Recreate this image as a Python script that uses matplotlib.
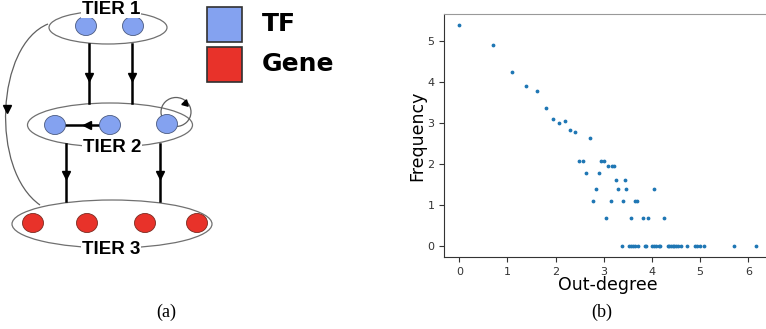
import matplotlib.pyplot as plt
import numpy as np
from matplotlib.patches import Ellipse, Rectangle, Arc, PathPatch
from matplotlib.path import Path

# scatter data (log out-degree vs log frequency)
out_degree = [0.00, 0.69, 1.10, 1.39, 1.61, 1.79, 1.95, 2.08, 2.20, 2.30,
              2.40, 2.71, 2.48, 2.56, 2.64, 2.83, 2.77, 2.89, 2.94, 3.00,
              3.04, 3.09, 3.14, 3.18, 3.22, 3.26, 3.30, 3.37, 3.40, 3.43,
              3.47, 3.53, 3.56, 3.60, 3.64, 3.71, 3.56, 3.64, 3.69, 3.81,
              3.85, 3.87, 3.91, 4.01, 4.04, 4.09, 4.14, 4.17, 4.04, 4.26,
              4.33, 4.36, 4.39, 4.43, 4.46, 4.50, 4.53, 4.60, 4.72, 4.89,
              4.94, 5.00, 5.09, 5.71, 6.16]
frequency = [5.38, 4.90, 4.23, 3.91, 3.78, 3.37, 3.09, 3.00, 3.04, 2.83,
             2.77, 2.64, 2.08, 2.08, 1.79, 1.39, 1.10, 1.79, 2.08, 2.08,
             0.69, 1.95, 1.10, 1.95, 1.95, 1.61, 1.39, 0.00, 1.10, 1.61,
             1.39, 0.00, 0.00, 0.00, 0.00, 0.00, 0.69, 1.10, 1.10, 0.69,
             0.00, 0.00, 0.69, 0.00, 0.00, 0.00, 0.00, 0.00, 1.39, 0.69,
             0.00, 0.00, 0.00, 0.00, 0.00, 0.00, 0.00, 0.00, 0.00, 0.00,
             0.00, 0.00, 0.00, 0.00, 0.00]
x_ticks = [0, 1, 2, 3, 4, 5, 6]
y_ticks = [0, 1, 2, 3, 4, 5]

# diagram: tiers and nodes
tier_labels = ["TIER 1", "TIER 2", "TIER 3"]
legend_labels = ["TF", "Gene"]

blue = "#84a2f0"
red = "#e8322a"

W, H = 766, 329
fig = plt.figure(figsize=(W / 100, H / 100), dpi=100)

# ---------- (a) diagram, drawn in pixel coordinates ----------
d = fig.add_axes([0, 0, 1, 1])
d.set_xlim(0, W)
d.set_ylim(H, 0)
d.axis("off")

tiers = [((108, 27.5), 118, 33), ((110, 125), 165, 44), ((112, 224), 200, 48)]
for (c, w, h) in tiers:
    d.add_patch(Ellipse(c, w, h, fc="none", ec="#707070", lw=0.9, zorder=1))

tier_text_pos = [(111, 9), (112, 147), (111, 249)]
for (x, y), lab in zip(tier_text_pos, tier_labels):
    d.text(x, y, lab, ha="center", va="center", fontsize=13.5,
           family="Liberation Sans", weight="bold", zorder=5,
           bbox=dict(fc="white", ec="none", pad=0.5))

# long curved arrow tier 1 -> tier 3
curve = Path([(48, 24), (-4, 45), (-10, 170), (40, 205)],
             [Path.MOVETO, Path.CURVE4, Path.CURVE4, Path.CURVE4])
d.add_patch(PathPatch(curve, fc="none", ec="#606060", lw=0.9, zorder=2))
d.plot(7, 109, marker="v", ms=5.5, color="black", zorder=3)

# vertical arrows
for x in [89, 132]:
    d.plot([x, x], [44, 103], color="black", lw=1.8, zorder=2)
    d.plot(x, 77, marker="v", ms=6, color="black", zorder=3)
for x in [66, 160]:
    d.plot([x, x], [144, 201], color="black", lw=1.8, zorder=2)
    d.plot(x, 175, marker="v", ms=6, color="black", zorder=3)

# horizontal arrow inside tier 2
d.plot([110, 55], [125, 125], color="black", lw=1.8, zorder=2)
d.plot(87, 125, marker="<", ms=6, color="black", zorder=3)

# self loop
d.add_patch(Arc((176, 112), 30, 29, theta1=0, theta2=360, ec="#606060",
                lw=0.9, zorder=2))
d.plot(185, 103, marker=(3, 0, -135), ms=5.5, color="black", zorder=3)

nodes_blue = [(86, 26), (133, 26), (55, 125), (110, 125), (167, 124)]
nodes_red = [(33, 223), (87, 223), (145, 223), (197, 223)]
for (x, y) in nodes_blue:
    d.add_patch(Ellipse((x, y), 21, 19, fc=blue, ec="#4a5a80", lw=0.6, zorder=4))
for (x, y) in nodes_red:
    d.add_patch(Ellipse((x, y), 21, 19, fc=red, ec="#7a2a20", lw=0.6, zorder=4))

# legend squares
for (y, col, lab) in [(7, blue, legend_labels[0]), (47, red, legend_labels[1])]:
    d.add_patch(Rectangle((207, y), 35, 35, fc=col, ec="#303030", lw=1.2, zorder=4))
    d.text(262, y + 17, lab, ha="left", va="center", fontsize=18,
           family="DejaVu Sans", weight="bold")

fig.text(166 / W, 1 - 312 / H, "(a)", ha="center", va="center",
         family="Liberation Serif", fontsize=13)
fig.text(602 / W, 1 - 312 / H, "(b)", ha="center", va="center",
         family="Liberation Serif", fontsize=13)

# ---------- (b) scatter ----------
ax = fig.add_axes([444.3 / W, 1 - 257.3 / H, (771 - 444.3) / W, (257.3 - 14) / H])
ax.scatter(out_degree, frequency, s=3, color="#1f77b4", zorder=3)
ax.set_xlim(-0.311, (771 - 459.3) / 48.17)
ax.set_ylim(-0.27, 5.65)
ax.set_xticks(x_ticks)
ax.set_yticks(y_ticks)
ax.tick_params(labelsize=8, colors="#333333", length=3.5, width=0.8)
ax.set_xlabel("Out-degree", fontsize=12.5, labelpad=-1)
ax.set_ylabel("Frequency", fontsize=12.5, labelpad=1)
ax.spines["right"].set_visible(False)
ax.spines["top"].set_color("#999999")
ax.spines["left"].set_color("#333333")
ax.spines["bottom"].set_color("#333333")

fig.savefig("out.png", dpi=100)
